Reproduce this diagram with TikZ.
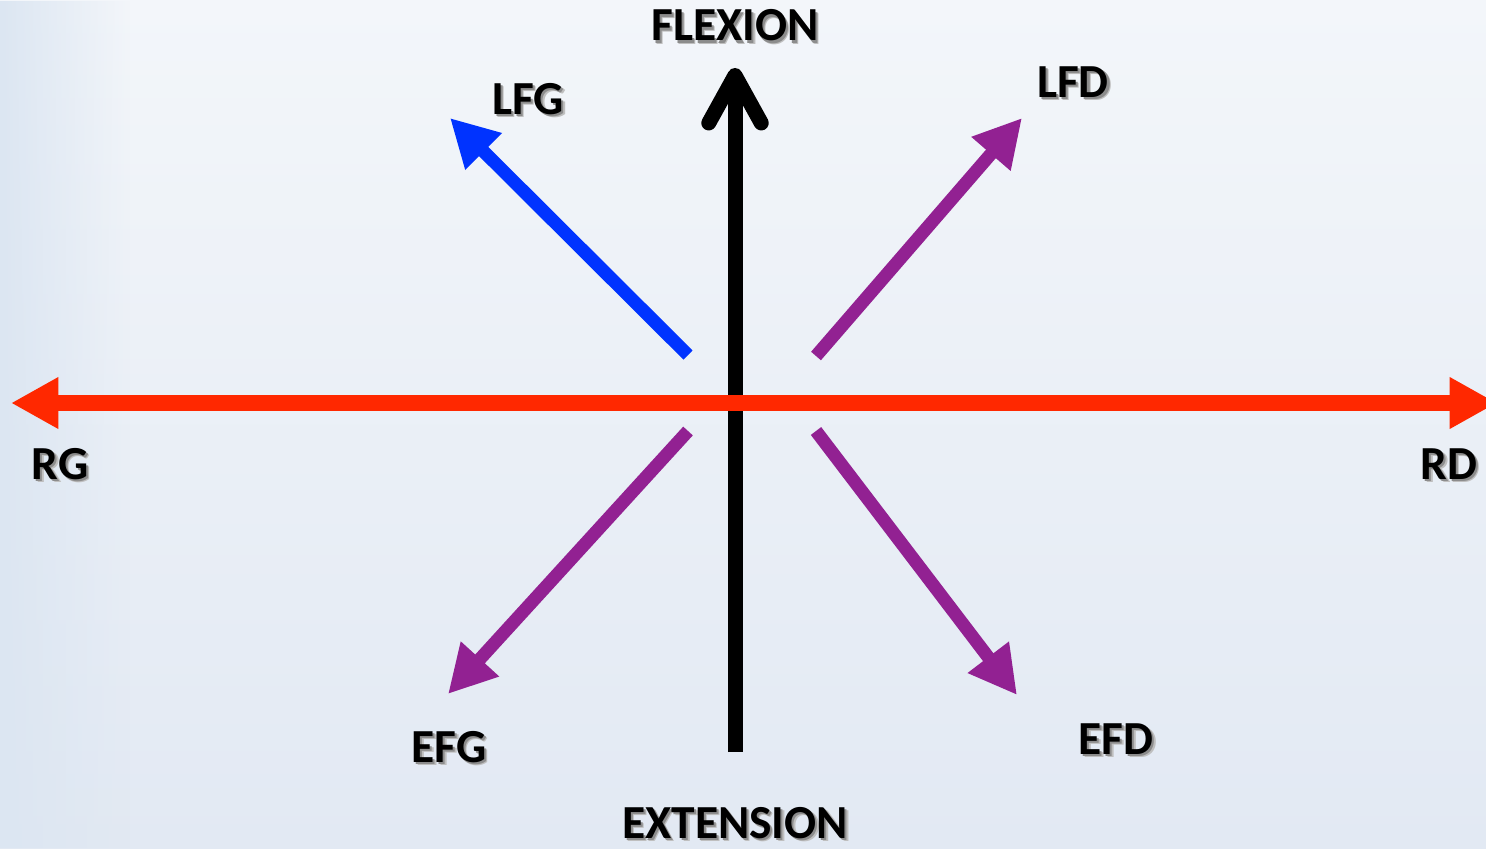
\documentclass[tikz,border=0pt]{standalone}
\usepackage{fontspec}
\setmainfont{Carlito}
\usepackage{xcolor}
\usepackage{tikz}
\usetikzlibrary{arrows.meta,fadings}
\definecolor{bgblue}{RGB}{220,230,242}
\definecolor{bglight}{RGB}{243,246,250}
\definecolor{bgdeep}{RGB}{226,233,243}
\definecolor{axisred}{RGB}{255,40,0}
\definecolor{lfgblue}{RGB}{0,51,255}
\definecolor{devpurple}{RGB}{146,33,146}
\newcommand{\shadowed}[1]{\rlap{\hspace{2pt}\raisebox{-2pt}{\textcolor{black!25}{#1}}}\rlap{\hspace{1.2pt}\raisebox{-1.2pt}{\textcolor{black!45}{#1}}}#1}
\tikzstyle{axislabel} = [font=\fontsize{27}{30}\selectfont\bfseries, inner sep=0pt, anchor=base, text=black]
\tikzstyle{radial} = [-{Triangle[length=0.95cm, width=0.97cm]}, line width=0.26cm]
\tikzstyle{lateral} = [{Triangle[length=0.95cm, width=0.97cm]}-{Triangle[length=0.95cm, width=0.97cm]}, line width=0.32cm, draw=axisred]
\tikzstyle{sagittal} = [-{Straight Barb[length=0.95cm, width=1.05cm, round]}, line width=0.30cm, draw=black]

\begin{document}
\begin{tikzpicture}[x=0.02cm, y=-0.02cm]
% background
\shade[top color=bglight, bottom color=bgdeep] (0,0) rectangle (1486,848);
\fill[bgblue, path fading=east] (0,0) rectangle (130,848);
\clip (0,0) rectangle (1486,848);
\useasboundingbox (0,0) rectangle (1486,848);

% end points of the arrows
\coordinate (rgtip) at (11,403);
\coordinate (rdtip) at (1497,403);
\coordinate (extbase) at (735,752);
\coordinate (flextip) at (735,68);
\coordinate (lfgbase) at (688,355);
\coordinate (lfgtip) at (450,118);
\coordinate (lfdbase) at (816,356);
\coordinate (lfdtip) at (1022,118);
\coordinate (efgbase) at (688,431);
\coordinate (efgtip) at (448,694);
\coordinate (efdbase) at (816,431);
\coordinate (efdtip) at (1017,695);

% labels
\node[axislabel] (flexion) at (735,41) {\shadowed{FLEXION}};
\node[axislabel] (extension) at (735,838) {\shadowed{EXTENSION}};
\node[axislabel] (rg) at (60,479) {\shadowed{RG}};
\node[axislabel] (rd) at (1449,479) {\shadowed{RD}};
\node[axislabel] (lfg) at (528,114) {\shadowed{LFG}};
\node[axislabel] (lfd) at (1073,97) {\shadowed{LFD}};
\node[axislabel] (efg) at (449,762) {\shadowed{EFG}};
\node[axislabel] (efd) at (1116,754) {\shadowed{EFD}};

% arrows
\draw[sagittal] (extbase) -- (flextip);
\draw[lateral] (rgtip) -- (rdtip);
\draw[radial, draw=lfgblue] (lfgbase) -- (lfgtip);
\draw[radial, draw=devpurple] (lfdbase) -- (lfdtip);
\draw[radial, draw=devpurple] (efgbase) -- (efgtip);
\draw[radial, draw=devpurple] (efdbase) -- (efdtip);
\end{tikzpicture}
\end{document}
